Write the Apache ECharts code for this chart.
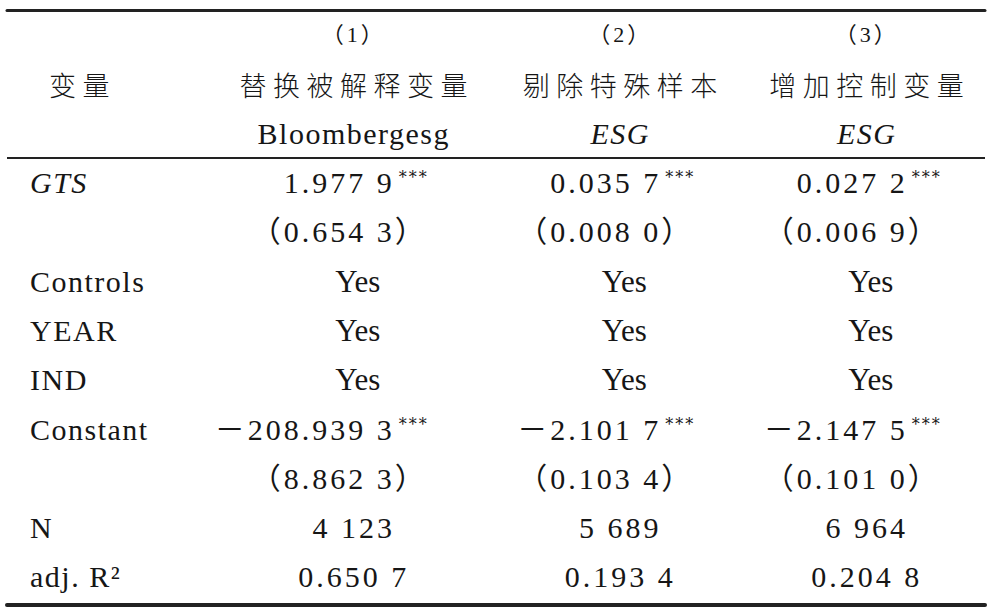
<!DOCTYPE html>
<html>
<head>
<meta charset="utf-8">
<title>稳健性检验</title>
<script src="https://cdn.jsdelivr.net/npm/echarts@6/dist/echarts.min.js"></script>
<style>
  html, body { margin: 0; padding: 0; background: #fff; }
  #main { width: 992px; height: 608px; }
</style>
</head>
<body>
<div id="main"></div>
<script>
// 表头
const modelNo = ['（1）', '（2）', '（3）'];
const modelName = ['替换被解释变量', '剔除特殊样本', '增加控制变量'];
const depVar = ['Bloombergesg', 'ESG', 'ESG'];
// 行名（含表头三行）
const rowLabels = ['', '变量', '', 'GTS', '', 'Controls', 'YEAR', 'IND', 'Constant', '', 'N', 'adj. R²'];
// 回归结果
const gtsCoef = [1.9779, 0.0357, 0.0272];
const gtsSE = [0.6543, 0.0080, 0.0069];
const gtsStars = ['***', '***', '***'];
const controlsRow = ['Yes', 'Yes', 'Yes'];
const yearRow = ['Yes', 'Yes', 'Yes'];
const indRow = ['Yes', 'Yes', 'Yes'];
const constCoef = [-208.9393, -2.1017, -2.1475];
const constSE = [8.8623, 0.1034, 0.1010];
const constStars = ['***', '***', '***'];
const obsN = [4123, 5689, 6964];
const adjR2 = [0.6507, 0.1934, 0.2048];

const FONT_NUM = 'Liberation Serif, Noto Sans CJK SC';
const FONT_WORD = 'Liberation Serif, serif';
const FONT_YES = 'Liberation Serif';
const FONT_STAR = 'DejaVu Serif';
const FONT_CJK = 'Noto Sans CJK SC, sans-serif';
const INK = '#161616';

// 列中心微调, 第一列左缩进
const colShift = [0, -20, 2, 4];
const labelInset = 23;

function group3(s) {
  return s.replace(/\B(?=(\d{3})+(?!\d))/g, ' ');
}
function fmt(v) {
  const parts = Math.abs(v).toFixed(4).split('.');
  return (v < 0 ? '－' : '') + group3(parts[0]) + '.' + parts[1].slice(0, 3) + ' ' + parts[1].slice(3);
}

// 组装单元格 [列, 行]
const cells = [];
function add(col, row, kind, text, extra) {
  cells.push(Object.assign({ col: col, row: row, kind: kind, text: text }, extra || {}));
}
rowLabels.forEach(function (t, r) {
  if (!t) return;
  add(0, r, r === 1 ? 'corner' : 'label', t, { italic: t === 'GTS' });
});
for (let i = 0; i < 3; i++) {
  const c = i + 1;
  add(c, 0, 'no', modelNo[i]);
  add(c, 1, 'name', modelName[i]);
  add(c, 2, 'dep', depVar[i], { italic: depVar[i] === 'ESG' });
  add(c, 3, 'coef', fmt(gtsCoef[i]), { stars: gtsStars[i] });
  add(c, 4, 'se', '（' + fmt(gtsSE[i]) + '）');
  add(c, 5, 'yes', controlsRow[i]);
  add(c, 6, 'yes', yearRow[i]);
  add(c, 7, 'yes', indRow[i]);
  add(c, 8, 'coef', fmt(constCoef[i]), { stars: constStars[i] });
  add(c, 9, 'se', '（' + fmt(constSE[i]) + '）');
  add(c, 10, 'stat', group3(String(obsN[i])));
  add(c, 11, 'stat', fmt(adjR2[i]));
}

function txt(x, y, text, font, size, align, italic, weight) {
  return {
    type: 'text',
    x: x,
    y: y,
    style: {
      text: text,
      fontFamily: font,
      fontSize: size,
      fontStyle: italic ? 'italic' : 'normal',
      fontWeight: weight || 'normal',
      fill: INK,
      align: align,
      textAlign: align,
      verticalAlign: 'middle',
      textVerticalAlign: 'middle'
    }
  };
}

function renderCell(params, api) {
  const cell = cells[params.dataIndex];
  const pt = api.coord([api.value(0), api.value(1)]);
  const size = api.size([1, 1]);
  const cx = pt[0] + colShift[cell.col];
  const cy = pt[1];
  const left = pt[0] - size[0] / 2;
  switch (cell.kind) {
    case 'label':
      return txt(left + labelInset, cy, cell.text, FONT_WORD, 30, 'left', cell.italic);
    case 'corner':
      return txt(left + 42, cy + 1, cell.text, FONT_CJK, 27, 'left', false, 300);
    case 'no':
      return txt(cx, cy, cell.text, FONT_NUM, 22, 'center');
    case 'name':
      return txt(cx + 3, cy + 1, cell.text, FONT_CJK, 27, 'center', false, 300);
    case 'dep':
      return txt(cx, cy, cell.text, FONT_WORD, 30, 'center', cell.italic);
    case 'coef':
      return {
        type: 'group',
        children: [
          txt(cx + 41, cy, cell.text, FONT_NUM, 30, 'right'),
          txt(cx + 45, cy - 5, cell.stars, FONT_STAR, 16, 'left', false, 300)
        ]
      };
    case 'se':
      return txt(cx + 74, cy, cell.text, FONT_NUM, 30, 'right');
    case 'yes':
      return txt(cx + 4, cy, cell.text, FONT_YES, 31, 'center');
    default:
      return txt(cx, cy, cell.text, FONT_NUM, 30, 'center');
  }
}

// 表头与表体之间的细线
function renderRule(params, api) {
  const pt = api.coord([0, api.value(1)]);
  const size = api.size([1, 1]);
  const y = pt[1] - size[1] / 2;
  return {
    type: 'line',
    shape: { x1: params.coordSys.x, y1: y, x2: params.coordSys.x + params.coordSys.width, y2: y },
    style: { stroke: '#222', lineWidth: 2 }
  };
}

// SVG 文字加字距: 数字 3px, 英文 1.5px, 中文 6.5px, 星号 2px
function applySpacing() {
  document.querySelectorAll('#main text').forEach(function (t) {
    const fam = getComputedStyle(t).fontFamily;
    let ls = 0;
    if (fam.indexOf('Liberation') > -1 && fam.indexOf('Noto') > -1) ls = 3;
    else if (fam.indexOf('Noto') > -1) ls = 6.5;
    else if (fam.indexOf('DejaVu') > -1) ls = 2;
    else if (/,\s*serif/.test(fam)) ls = 1.5;
    t.style.letterSpacing = ls + 'px';
  });
}

const colKeys = ['变量', '（1）', '（2）', '（3）'];
const rowKeys = rowLabels.map(function (t, i) { return 'r' + i; });

const chart = echarts.init(document.getElementById('main'), null, { renderer: 'svg' });
chart.on('finished', applySpacing);
chart.setOption({
  animation: false,
  backgroundColor: '#fff',
  grid: { left: 7, right: 7, top: 10, height: 591.6 },
  xAxis: [
    {
      type: 'category', data: colKeys, position: 'top',
      axisLine: { lineStyle: { color: '#222', width: 3 } },
      axisTick: { show: false }, axisLabel: { show: false }, splitLine: { show: false }
    },
    {
      type: 'category', data: colKeys, position: 'bottom', offset: 3,
      axisLine: { lineStyle: { color: '#222', width: 4 } },
      axisTick: { show: false }, axisLabel: { show: false }, splitLine: { show: false }
    }
  ],
  yAxis: { type: 'category', data: rowKeys, inverse: true, show: false },
  series: [
    {
      type: 'custom',
      silent: true,
      renderItem: renderCell,
      encode: { x: 0, y: 1 },
      data: cells.map(function (c) { return [c.col, c.row]; })
    },
    {
      type: 'custom',
      silent: true,
      renderItem: renderRule,
      encode: { x: 0, y: 1 },
      data: [[0, 3]]
    }
  ]
});
applySpacing();
</script>
</body>
</html>
